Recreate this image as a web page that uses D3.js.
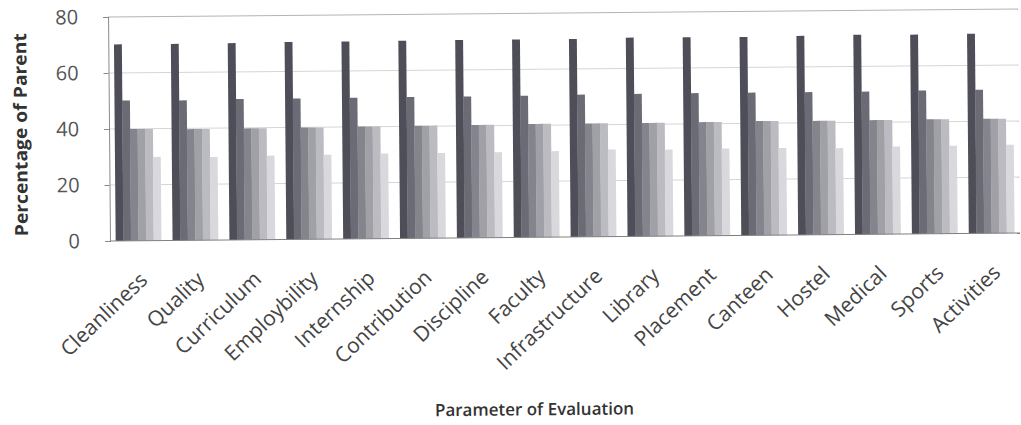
<!DOCTYPE html>
<html><head><meta charset="utf-8">
<script src="https://cdn.jsdelivr.net/npm/d3@7"></script>
<style>body{margin:0;background:#fff}svg{display:block}</style>
</head><body>
<svg id="chart" width="1021" height="425"></svg>
<script>
const categories = ["Cleanliness","Quality","Curriculum","Employbility","Internship","Contribution","Discipline","Faculty","Infrastructure","Library","Placement","Canteen","Hostel","Medical","Sports","Activities"];
const series1 = [70.2,70.2,70.3,70.5,70.5,70.6,70.7,70.7,70.7,71.0,71.0,70.9,71.1,71.3,71.2,71.3];
const series2 = [50.1,50.0,50.3,50.3,50.4,50.5,50.5,50.6,50.8,50.9,51.0,51.0,51.0,51.0,51.2,51.3];
const series3 = [39.9,39.7,39.8,39.9,40.1,40.2,40.3,40.5,40.5,40.5,40.6,40.8,40.7,40.8,40.9,40.9];
const series4 = [39.9,39.7,39.8,39.9,40.1,40.2,40.3,40.5,40.5,40.5,40.6,40.8,40.7,40.8,40.9,40.9];
const series5 = [39.9,39.7,39.8,39.9,40.1,40.2,40.3,40.5,40.5,40.5,40.6,40.8,40.7,40.8,40.9,40.9];
const series6 = [29.9,29.7,30.0,30.1,30.4,30.4,30.5,30.7,31.1,30.9,31.1,31.1,30.9,31.3,31.4,31.6];
const yTicks = [0,20,40,60,80];
const seriesColors = ["#4e4e58","#6b6b75","#84848d","#a0a0a7","#bbbbc1","#d9d9dd"];
const yTitle = "Percentage of Parent";
const xTitle = "Parameter of Evaluation";

const seriesList = [series1,series2,series3,series4,series5,series6];
const svg = d3.select("#chart");
const L = 110, R = 1020, T = 17, B = 241;

const x = d3.scaleBand().domain(categories).range([L, R]).paddingInner(0.2).paddingOuter(0.1);
const xs = d3.scaleBand().domain(d3.range(seriesList.length)).range([0, x.bandwidth()]);
const y = d3.scaleLinear().domain([0, 80]).range([B, T]);

const g = svg.append("g").attr("transform", `rotate(-0.5,${L},${B})`);

// gridlines
g.append("g").selectAll("line").data(yTicks.filter(d => d > 0)).join("line")
  .attr("x1", L).attr("x2", R).attr("y1", d => y(d)).attr("y2", d => y(d))
  .attr("stroke", d => d === 80 ? "#b4b4b4" : "#d6d6d6").attr("stroke-width", 1);

// bars
const groups = g.append("g").selectAll("g").data(categories).join("g")
  .attr("transform", c => `translate(${x(c)},0)`);
groups.selectAll("rect").data((c, i) => seriesList.map((s, k) => ({k, v: s[i]}))).join("rect")
  .attr("x", d => xs(d.k)).attr("width", xs.bandwidth() + 0.3)
  .attr("y", d => y(d.v)).attr("height", d => y(0) - y(d.v))
  .attr("fill", d => seriesColors[d.k]);

// y axis
const yAxis = g.append("g").attr("transform", `translate(${L},0)`)
  .call(d3.axisLeft(y).tickValues(yTicks).tickSize(5).tickPadding(25).tickFormat(d3.format("d")));
yAxis.select(".domain").attr("stroke", "#8a8a8a");
yAxis.selectAll(".tick line").attr("stroke", "#8a8a8a");
yAxis.selectAll(".tick text").attr("font-family", "'Open Sans'").attr("font-size", 20).attr("fill", "#555");

// x axis baseline
g.append("line").attr("x1", L).attr("x2", R).attr("y1", B).attr("y2", B).attr("stroke", "#808080");

// x labels
g.append("g").selectAll("text").data(categories).join("text")
  .attr("transform", c => `translate(${x(c) + x.bandwidth()/2 + 10},${B + 41}) rotate(-43)`)
  .attr("text-anchor", "end")
  .attr("font-family", "'Open Sans'").attr("font-size", 21).attr("fill", "#444")
  .text(c => c);

// titles
g.append("text").attr("transform", `translate(28,${(T+B)/2 + 5}) rotate(-90)`)
  .attr("text-anchor", "middle").attr("font-family", "'Open Sans'").attr("font-weight", 700)
  .attr("font-size", 18).attr("fill", "#333").attr("textLength", 203).attr("lengthAdjust", "spacingAndGlyphs").text(yTitle);
g.append("text").attr("x", 533).attr("y", 419).attr("text-anchor", "middle")
  .attr("font-family", "'Open Sans'").attr("font-weight", 600).attr("font-size", 17)
  .attr("fill", "#333").text(xTitle);
</script>
</body></html>
